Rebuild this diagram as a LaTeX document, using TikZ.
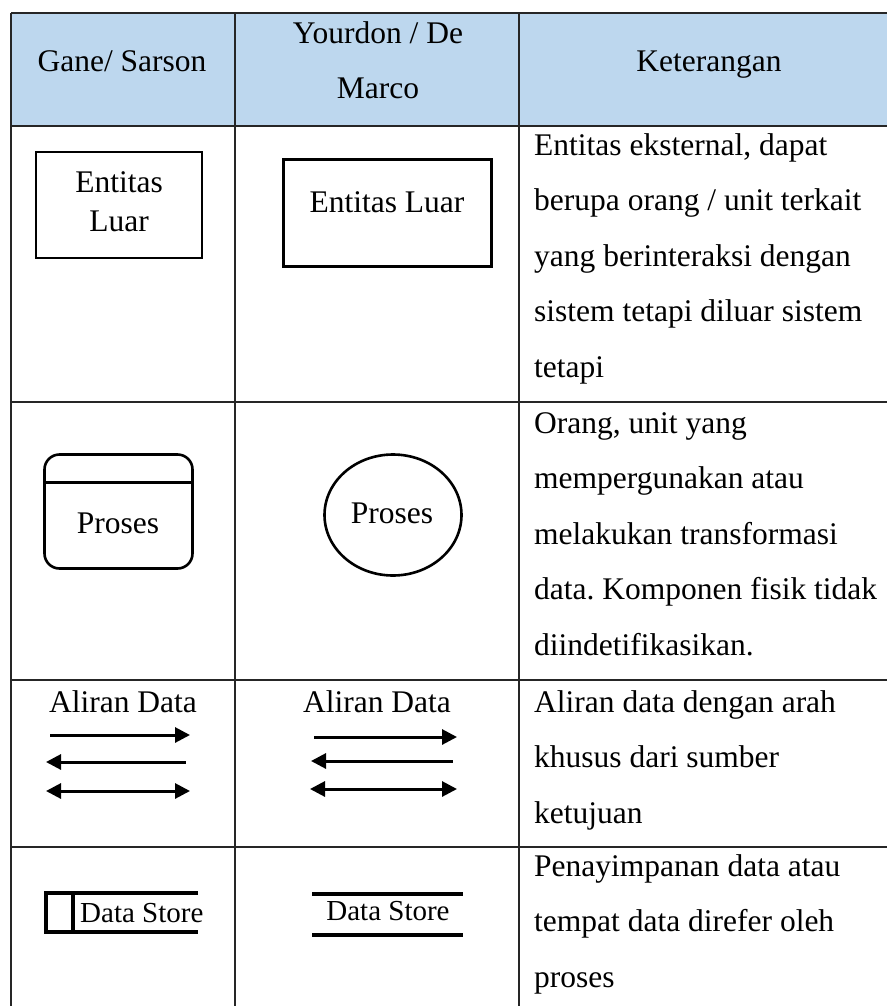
\documentclass[tikz,border=0pt]{standalone}
\usepackage{fontspec}
\setmainfont{Liberation Serif}
\usetikzlibrary{arrows.meta,shapes.geometric}
\frenchspacing

\definecolor{headblue}{HTML}{BDD7EE}
\newcommand{\celltext}{\fontsize{31.5}{55.5}\selectfont}
\newcommand{\symtext}{\fontsize{31.5}{39}\selectfont}
\newcommand{\storetext}{\fontsize{29}{35}\selectfont}

\tikzstyle{rule} = [draw=black!85, line width=1.2pt]
\tikzstyle{head} = [inner sep=0pt, font=\celltext, align=center]
\tikzstyle{cell} = [inner sep=0pt, font=\celltext, align=left]
\tikzstyle{sym} = [draw, line width=2.6pt, inner sep=0pt]
\tikzstyle{symlabel} = [inner sep=0pt, font=\symtext, align=center]
\tikzstyle{store} = [inner sep=0pt, font=\storetext]
\tikzstyle{storeline} = [draw, line width=3.8pt]
\tikzstyle{flow} = [draw, line width=3pt]
\tikzstyle{flowr} = [-{Triangle[length=15pt,width=15pt]}]
\tikzstyle{flowl} = [{Triangle[length=15pt,width=15pt]}-]
\tikzstyle{flowlr} = [{Triangle[length=15pt,width=15pt]}-{Triangle[length=15pt,width=15pt]}]

\begin{document}
\begin{tikzpicture}[x=1pt, y=-1pt]
    \useasboundingbox (0,0) rectangle (887,1006);
    % First we draw the table
    \fill[headblue] (11,13) rectangle (887,126);
    \foreach \y in {13,126,402,680,847}
        \path[rule] (11,\y) -- (887,\y);
    \foreach \x in {11,235,519}
        \path[rule] (\x,13) -- (\x,1006);

    % Header (multi-line nodes sit on their last baseline)
    \node[head, anchor=base] (hgane) at (122,72) {Gane/ Sarson};
    \node[head, anchor=base] (hyour) at (378,99) {Yourdon / De\\Marco};
    \node[head, anchor=base] (hket) at (709,72) {Keterangan};

    % Entitas luar
    \node[sym, rectangle, minimum width=166pt, minimum height=106pt] (gsent) at (119,205) {};
    \node[symlabel, anchor=base] (gsentl) at (119,231) {Entitas\\Luar};
    \node[sym, rectangle, minimum width=208pt, minimum height=107pt] (ydent) at (387.5,213) {};
    \node[symlabel, anchor=base] (ydentl) at (387,212) {Entitas Luar};

    % Proses
    \node[sym, rectangle, rounded corners=15pt, minimum width=148pt, minimum height=114pt] (gsproc) at (118.5,511.5) {};
    \path[sym] ([yshift=-29pt]gsproc.north west) -- ([yshift=-29pt]gsproc.north east);
    \node[symlabel, anchor=base] (gsprocl) at (118,533) {Proses};
    \node[sym, ellipse, minimum width=137pt, minimum height=121pt] (ydproc) at (393,515) {};
    \node[symlabel, anchor=base] (ydprocl) at (392,523) {Proses};

    % Aliran data
    \node[head, anchor=base] (gsflow) at (123,712) {Aliran Data};
    \node[head, anchor=base] (ydflow) at (377,712) {Aliran Data};
    \foreach \n/\y/\a/\b/\tip in {gs1/735/50/190/flowr, gs2/762/46/186/flowl, gs3/791/46/190/flowlr,
                                  yd1/737/314/457/flowr, yd2/761/311/453/flowl, yd3/789/310/457/flowlr}
    {
        \coordinate (\n-l) at (\a,\y);
        \coordinate (\n-r) at (\b,\y);
        \path[flow, \tip] (\n-l) -- (\n-r);
    }

    % Data store
    \path[storeline] (198,893) -- (46,893) -- (46,932) -- (198,932);
    \path[storeline] (73,893) -- (73,932);
    \node[store, anchor=base west] (gsds) at (80,922) {Data Store};
    \path[storeline] (312,894) -- (463,894);
    \path[storeline] (312,935) -- (463,935);
    \node[store, anchor=base] (ydds) at (388,920) {Data Store};

    % Keterangan column
    \node[cell, anchor=base west] (k1) at (534,377) {Entitas eksternal, dapat\\berupa orang / unit terkait\\yang berinteraksi dengan\\sistem tetapi diluar sistem\\tetapi};
    \node[cell, anchor=base west] (k2) at (534,655) {Orang, unit yang\\mempergunakan atau\\melakukan transformasi\\data. Komponen fisik tidak\\diindetifikasikan.};
    \node[cell, anchor=base west] (k3) at (534,823) {Aliran data dengan arah\\khusus dari sumber\\ketujuan};
    \node[cell, anchor=base west] (k4) at (534,987) {Penayimpanan data atau\\tempat data direfer oleh\\proses};
\end{tikzpicture}
\end{document}
